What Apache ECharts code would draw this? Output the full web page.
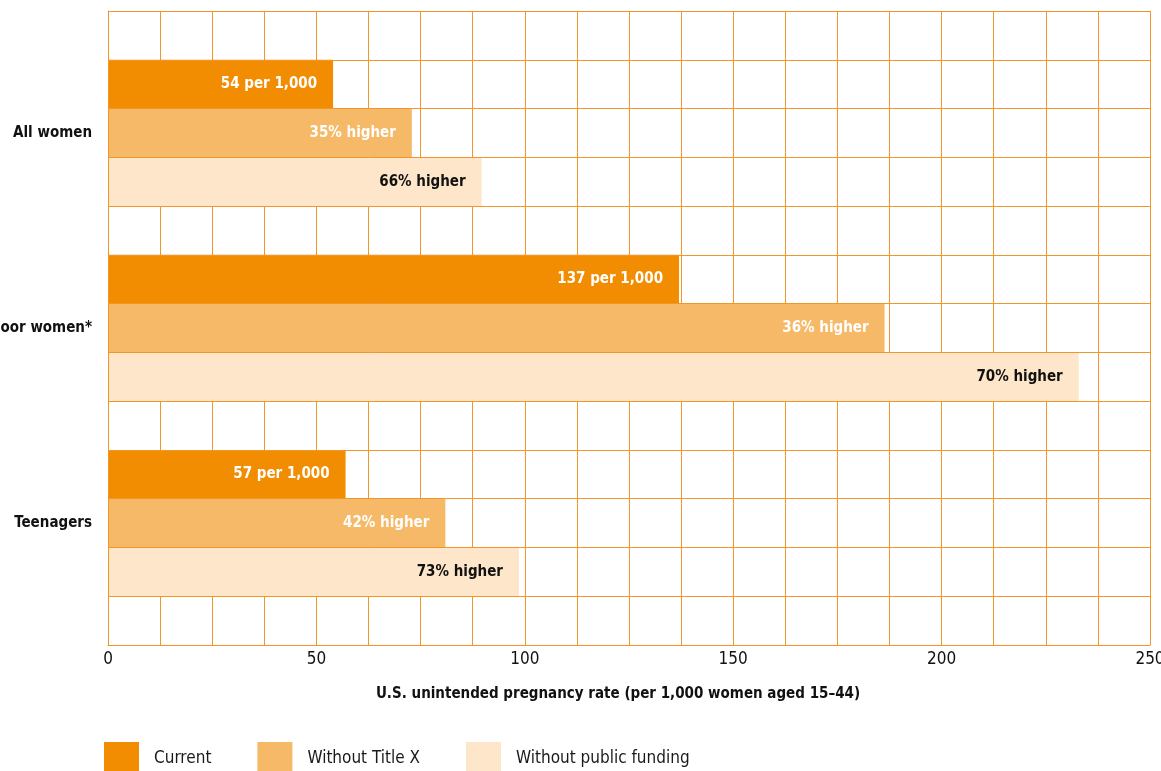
<!DOCTYPE html>
<html>
<head>
<meta charset="utf-8">
<title>U.S. unintended pregnancy rate</title>
<script src="https://cdn.jsdelivr.net/npm/echarts@6/dist/echarts.min.js"></script>
<style>
  html, body { margin: 0; padding: 0; background: #fff; }
  #chart { width: 1161px; height: 771px; }
</style>
</head>
<body>
<div id="chart"></div>
<script>
// Groups and rates per 1,000 women aged 15–44
const groups = ['All women', 'Poor women*', 'Teenagers'];
const currentRate = [54, 137, 57];
// Percent increase over the current rate in each scenario
const pctWithoutTitleX = [35, 36, 42];
const pctWithoutPublicFunding = [66, 70, 73];
const seriesNames = ['Current', 'Without Title X', 'Without public funding'];
const xTicks = [0, 50, 100, 150, 200, 250];

const colors = ['#F28C00', '#F6B968', '#FDE6C9'];
const gridColor = '#F2962A';
const FONT = '"Liberation Sans Narrow", "DejaVu Sans Condensed", "Roboto Condensed", sans-serif';

// Each group takes four rows: a blank spacer row followed by one row per scenario,
// with one extra blank row at the bottom.
const rowCount = groups.length * 4 + 1;
const rowKeys = Array.from({ length: rowCount }, (_, i) => 'row' + i);
const rowLabel = {};
groups.forEach((g, gi) => { rowLabel['row' + (gi * 4 + 2)] = g; });

function rowSeries(si, valueOf, labelOf) {
  const data = new Array(rowCount).fill(null);
  groups.forEach((g, gi) => {
    data[gi * 4 + 1 + si] = { value: valueOf(gi), labelText: labelOf(gi) };
  });
  return data;
}

const seriesData = [
  rowSeries(0, gi => currentRate[gi], gi => currentRate[gi] + ' per 1,000'),
  rowSeries(1, gi => currentRate[gi] * (1 + pctWithoutTitleX[gi] / 100), gi => pctWithoutTitleX[gi] + '% higher'),
  rowSeries(2, gi => currentRate[gi] * (1 + pctWithoutPublicFunding[gi] / 100), gi => pctWithoutPublicFunding[gi] + '% higher')
];
const labelColors = ['#ffffff', '#ffffff', '#111111'];

const chart = echarts.init(document.getElementById('chart'), null, { renderer: 'canvas' });

chart.setOption({
  animation: false,
  textStyle: { fontFamily: FONT },
  grid: { left: 108, right: 11, top: 11, bottom: 126, containLabel: false, outerBoundsMode: 'none' },
  legend: {
    left: 104,
    top: 742,
    padding: 0,
    itemWidth: 35,
    itemHeight: 34,
    itemGap: 46,
    icon: 'rect',
    data: seriesNames,
    textStyle: { fontFamily: FONT, fontSize: 17, color: '#1a1a1a', padding: [0, 0, 0, 10] }
  },
  xAxis: {
    type: 'value',
    min: 0,
    max: 250,
    interval: 50,
    name: 'U.S. unintended pregnancy rate (per 1,000 women aged 15–44)',
    nameLocation: 'middle',
    nameGap: 42,
    nameTextStyle: { fontFamily: FONT, fontSize: 15, fontWeight: 'bold', color: '#111', padding: [0, 22, 0, 0] },
    axisLine: { show: true, lineStyle: { color: gridColor, width: 1 } },
    axisTick: { show: false },
    axisLabel: {
      fontFamily: FONT, fontSize: 17, color: '#111', margin: 6,
      formatter: v => xTicks.includes(v) ? String(v) : ''
    },
    splitLine: { show: true, lineStyle: { color: gridColor, width: 1 } },
    minorTick: { show: false, splitNumber: 4 },
    minorSplitLine: { show: true, lineStyle: { color: gridColor, width: 1 } }
  },
  yAxis: {
    type: 'category',
    inverse: true,
    data: rowKeys,
    boundaryGap: true,
    z: 5,
    axisLine: { show: true, lineStyle: { color: gridColor, width: 1 } },
    axisTick: { show: false },
    axisLabel: {
      interval: 0,
      margin: 16,
      fontFamily: FONT, fontSize: 15, fontWeight: 'bold', color: '#111',
      formatter: v => rowLabel[v] || ''
    },
    splitLine: { show: true, interval: 0, lineStyle: { color: gridColor, width: 1 } }
  },
  series: seriesNames.map((name, si) => ({
    name,
    type: 'bar',
    data: seriesData[si],
    barWidth: '100%',
    barGap: '-100%',
    itemStyle: { color: colors[si] },
    label: {
      show: true,
      position: 'insideRight',
      distance: 16,
      fontFamily: FONT,
      fontSize: 15,
      fontWeight: 'bold',
      color: labelColors[si],
      formatter: p => (p.data && p.data.labelText) || ''
    }
  }))
});
</script>
</body>
</html>
